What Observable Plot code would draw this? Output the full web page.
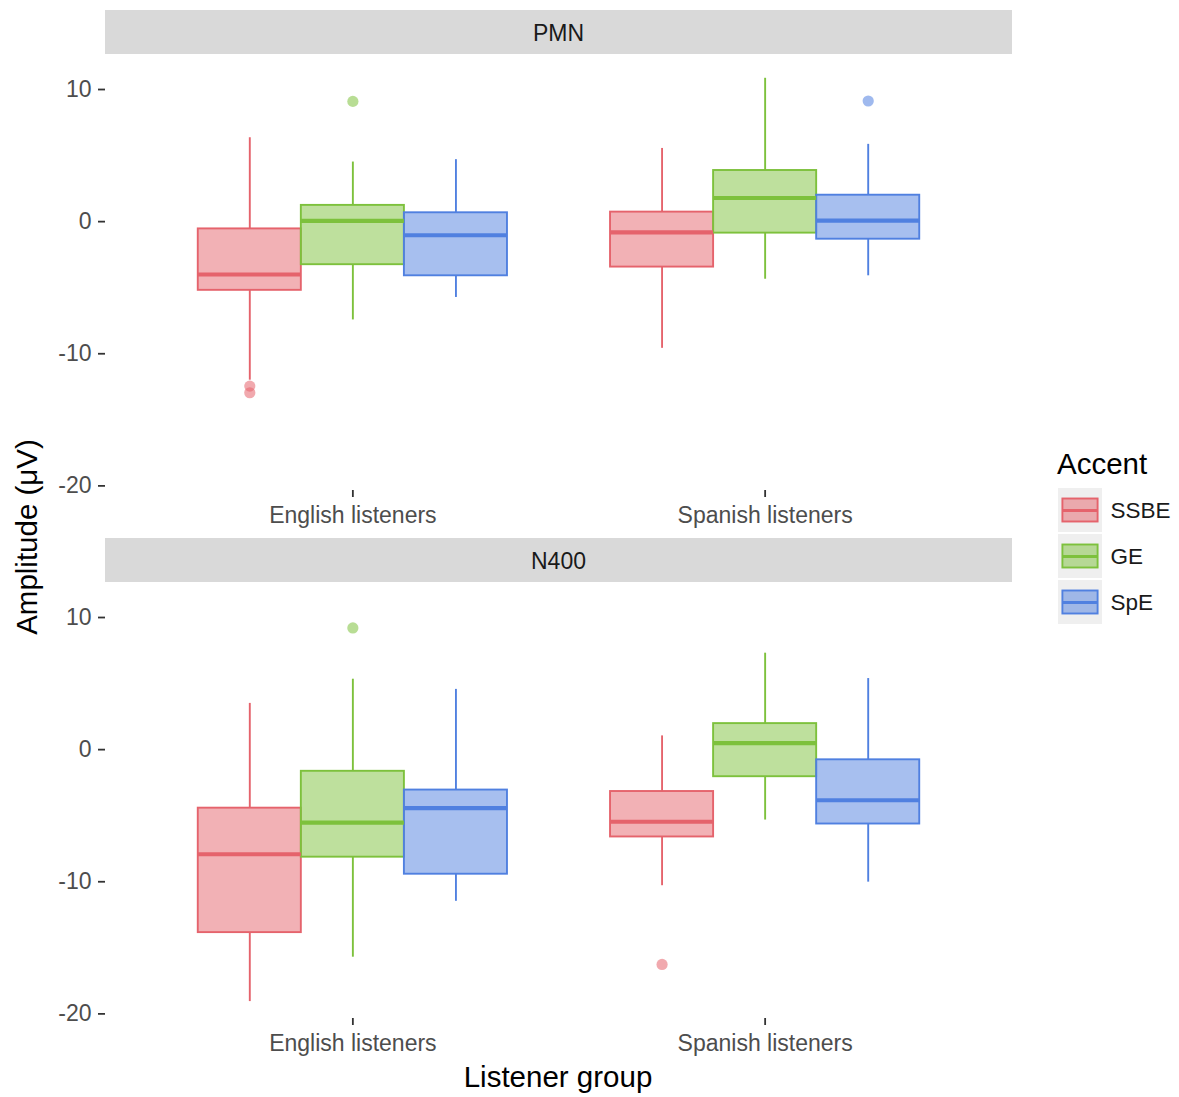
<!DOCTYPE html>
<html>
<head>
<meta charset="utf-8">
<script src="https://cdn.jsdelivr.net/npm/d3@7"></script>
<script src="https://cdn.jsdelivr.net/npm/@observablehq/plot@0.6"></script>
<style>
  body { margin: 0; background: #fff; }
  #wrap { position: relative; width: 1179px; height: 1097px; background: #fff;
          font-family: "Liberation Sans", Arial, sans-serif; overflow: hidden; }
  .strip { position: absolute; left: 105px; width: 907px; height: 44px; background: #d9d9d9;
           color: #1a1a1a; font-size: 23px; display: flex; align-items: center; justify-content: center;
           box-sizing: border-box; padding-top: 3px; }
  .title { position: absolute; color: #000; font-size: 29.5px; white-space: nowrap; }
</style>
</head>
<body>
<div id="wrap"></div>
<script>
// ---- data ----
const components = ["PMN", "N400"];
const groups = ["English listeners", "Spanish listeners"];
const accents = ["SSBE", "GE", "SpE"];
const strokeColors = ["#e5636c", "#7dc13c", "#5080e0"];

// order: English SSBE, English GE, English SpE, Spanish SSBE, Spanish GE, Spanish SpE
const pmnLower  = [-12.0, -7.44, -5.74, -9.59, -4.36, -4.10];
const pmnQ1     = [-5.2, -3.26, -4.10, -3.44, -0.87, -1.33];
const pmnMedian = [-4.0, 0.05, -1.03, -0.82, 1.79, 0.08];
const pmnQ3     = [-0.55, 1.23, 0.67, 0.72, 3.87, 2.0];
const pmnUpper  = [6.35, 4.51, 4.69, 5.54, 10.85, 5.85];

const n400Lower  = [-19.07, -15.71, -11.48, -10.3, -5.33, -10.03];
const n400Q1     = [-13.85, -8.14, -9.43, -6.61, -2.05, -5.63];
const n400Median = [-7.92, -5.52, -4.43, -5.46, 0.49, -3.83];
const n400Q3     = [-4.43, -1.64, -3.06, -3.17, 1.97, -0.77];
const n400Upper  = [3.50, 5.33, 4.56, 1.04, 7.30, 5.38];

const outlierComponent = ["PMN", "PMN", "PMN", "PMN", "N400", "N400"];
const outlierGroup  = ["English listeners", "English listeners", "English listeners", "Spanish listeners", "English listeners", "Spanish listeners"];
const outlierAccent = ["SSBE", "SSBE", "GE", "SpE", "GE", "SSBE"];
const outlierValue  = [-12.45, -12.95, 9.1, 9.13, 9.21, -16.26];

const yTicks = [-20, -10, 0, 10];
const yDomain = [-20.35, 12.65];

// ggplot-like discrete positions with dodge (total dodge width 0.75)
const dodgeWidth = 0.75;
const boxWidth = dodgeWidth / accents.length;
function xPos(group, accent) {
  return groups.indexOf(group) + 1 + (accents.indexOf(accent) - (accents.length - 1) / 2) * boxWidth;
}

// ---- build tables ----
function buildRows(lower, q1, median, q3, upper) {
  return lower.map((_, i) => {
    const group = groups[Math.floor(i / 3)], accent = accents[i % 3];
    return { group, accent, xc: xPos(group, accent),
             lower: lower[i], q1: q1[i], median: median[i], q3: q3[i], upper: upper[i] };
  });
}
const tables = {
  PMN: buildRows(pmnLower, pmnQ1, pmnMedian, pmnQ3, pmnUpper),
  N400: buildRows(n400Lower, n400Q1, n400Median, n400Q3, n400Upper)
};
const outliers = outlierValue.map((v, i) => ({
  component: outlierComponent[i], group: outlierGroup[i], accent: outlierAccent[i],
  xc: xPos(outlierGroup[i], outlierAccent[i]), value: v
}));

const font = "Liberation Sans, Arial, sans-serif";
const sw = 1.9;

function panel(comp) {
  const rows = tables[comp];
  const outs = outliers.filter(d => d.component === comp);
  return Plot.plot({
    width: 1012, height: 476,
    marginLeft: 105, marginRight: 0, marginTop: 0, marginBottom: 40,
    style: { fontFamily: font, fontSize: "23px", color: "#4d4d4d", background: "transparent", overflow: "visible" },
    x: { domain: [1 - 0.6, groups.length + 0.6], label: null },
    y: { domain: yDomain, label: null },
    color: { domain: accents, range: strokeColors },
    marks: [
      Plot.axisY({ ticks: yTicks, tickFormat: d => String(d), tickSize: 7, tickPadding: 7, label: null,
                   stroke: "#333333", strokeWidth: 1.8, fill: "#4d4d4d" }),
      Plot.axisX({ ticks: groups.map((g, i) => i + 1), tickFormat: d => groups[d - 1], tickSize: 7, tickPadding: 9,
                   label: null, stroke: "#333333", strokeWidth: 1.8, fill: "#4d4d4d" }),
      Plot.ruleX(rows, { x: "xc", y1: "lower", y2: "q1", stroke: "accent", strokeWidth: sw }),
      Plot.ruleX(rows, { x: "xc", y1: "q3", y2: "upper", stroke: "accent", strokeWidth: sw }),
      Plot.rect(rows, { x1: d => d.xc - boxWidth / 2, x2: d => d.xc + boxWidth / 2, y1: "q1", y2: "q3",
                        fill: "accent", fillOpacity: 0.5, stroke: "accent", strokeWidth: sw }),
      Plot.ruleY(rows, { x1: d => d.xc - boxWidth / 2, x2: d => d.xc + boxWidth / 2, y: "median",
                         stroke: "accent", strokeWidth: 4.2 }),
      Plot.dot(outs, { x: "xc", y: "value", r: 5.6, fill: "accent", fillOpacity: 0.55, stroke: null })
    ]
  });
}

const wrap = document.getElementById("wrap");

function addStrip(text, top) {
  const s = document.createElement("div");
  s.className = "strip";
  s.style.top = top + "px";
  s.textContent = text;
  wrap.appendChild(s);
}

addStrip(components[0], 10);
const p1 = panel(components[0]);
p1.style.position = "absolute"; p1.style.left = "0px"; p1.style.top = "54px";
wrap.appendChild(p1);

addStrip(components[1], 538);
const p2 = panel(components[1]);
p2.style.position = "absolute"; p2.style.left = "0px"; p2.style.top = "582px";
wrap.appendChild(p2);

// axis titles
const xt = document.createElement("div");
xt.className = "title";
xt.textContent = "Listener group";
xt.style.left = "558px"; xt.style.top = "1077px";
xt.style.transform = "translate(-50%, -50%)";
wrap.appendChild(xt);

const yt = document.createElement("div");
yt.className = "title";
yt.textContent = "Amplitude (μV)";
yt.style.left = "27px"; yt.style.top = "537px";
yt.style.transform = "translate(-50%, -50%) rotate(-90deg)";
wrap.appendChild(yt);

// legend
const lt = document.createElement("div");
lt.className = "title";
lt.textContent = "Accent";
lt.style.left = "1057px"; lt.style.top = "464px";
lt.style.transform = "translate(0, -50%)";
wrap.appendChild(lt);

const key = 46;
const legend = Plot.plot({
  width: 122, height: key * 3, margin: 0,
  style: { fontFamily: font, fontSize: "22.5px", color: "#000", background: "transparent", overflow: "visible" },
  x: { domain: [0, 122], range: [0, 122], axis: null },
  y: { domain: accents, type: "band", padding: 0, axis: null },
  color: { domain: accents, range: strokeColors },
  marks: [
    Plot.barX(accents, { x1: 0, x2: 44, y: d => d, fill: "#efefef", insetTop: 1, insetBottom: 1 }),
    Plot.ruleX(accents, { x: 22, y: d => d, stroke: d => d, strokeWidth: sw, insetTop: 4, insetBottom: key * 0.75 }),
    Plot.ruleX(accents, { x: 22, y: d => d, stroke: d => d, strokeWidth: sw, insetTop: key * 0.75, insetBottom: 4 }),
    Plot.barX(accents, { x1: 4.4, x2: 39.6, y: d => d, insetTop: key * 0.25, insetBottom: key * 0.25,
                         fill: d => d, fillOpacity: 0.5, stroke: d => d, strokeWidth: sw }),
    Plot.ruleY(accents, { y: d => d, x1: 4.4, x2: 39.6, stroke: d => d, strokeWidth: 3 }),
    Plot.text(accents, { x: 52, y: d => d, text: d => d, textAnchor: "start", fill: "#1a1a1a", fontSize: 22.5 })
  ]
});
legend.style.position = "absolute"; legend.style.left = "1058px"; legend.style.top = "487px";
wrap.appendChild(legend);
</script>
</body>
</html>
